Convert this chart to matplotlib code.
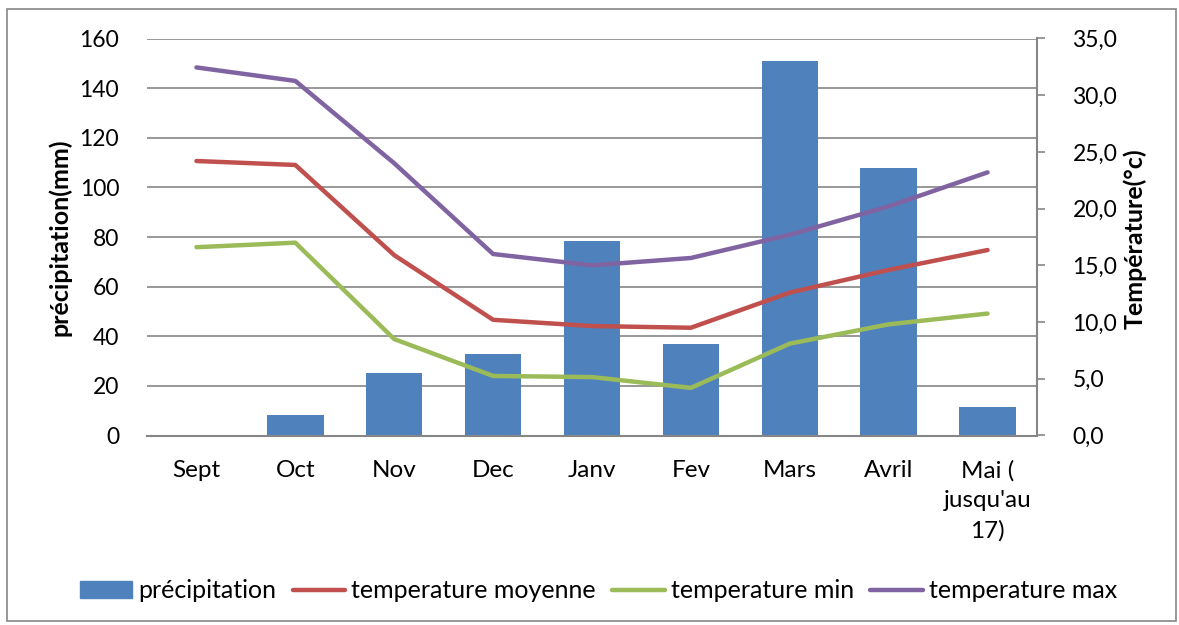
import matplotlib
matplotlib.use("Agg")
import matplotlib.pyplot as plt
from matplotlib.patches import Rectangle
from matplotlib.lines import Line2D
import numpy as np

months = ["Sept", "Oct", "Nov", "Dec", "Janv", "Fev", "Mars", "Avril", "Mai (\njusqu'au\n17)"]
precip = [0, 8.3, 25.2, 32.8, 78.4, 36.9, 151, 107.8, 11.3]
t_moy = [24.2, 23.85, 15.9, 10.2, 9.65, 9.5, 12.6, 14.6, 16.35]
t_min = [16.6, 17.0, 8.5, 5.25, 5.15, 4.2, 8.1, 9.8, 10.75]
t_max = [32.45, 31.26, 24.0, 16.0, 15.0, 15.65, 17.7, 20.2, 23.2]
left_ticks = [0, 20, 40, 60, 80, 100, 120, 140, 160]
right_ticks = [0, 5, 10, 15, 20, 25, 30, 35]

FONT = "Lato"
plt.rcParams["font.family"] = [FONT, "DejaVu Sans"]

W, H = 1179, 625
fig = plt.figure(figsize=(W / 100, H / 100), dpi=100)

L, R, T, B = 147, 1037, 38.5, 435.5
ax = fig.add_axes([L / W, 1 - B / H, (R - L) / W, (B - T) / H])
ax2 = ax.twinx()

x = np.arange(len(months))
blue = "#4F81BD"; red = "#C0504D"; green = "#9BBB59"; purple = "#8064A2"
grid = "#868686"

TICK = 16.5
XT = 17.5
LAB = 18

ax.bar(x, precip, width=0.57, color=blue, zorder=2)
ax.set_xlim(-0.5, len(months) - 0.5)
ax.set_ylim(0, 160)
ax.set_yticks(left_ticks)
for v in left_ticks:
    ax.axhline(v, color=grid, lw=1.2, zorder=1)
ax.tick_params(axis="y", length=0, labelsize=TICK, pad=20)
ax.tick_params(axis="x", length=0, labelsize=XT, pad=17.5)
ax.set_xticks(x)
ax.set_xticklabels(months, linespacing=1.5, va="top")
for s in ["top", "left", "right"]:
    ax.spines[s].set_visible(False)
ax.spines["bottom"].set_color(grid)
ax.spines["bottom"].set_linewidth(1.5)

lw = 3.2
kw = dict(lw=lw, solid_capstyle="round", solid_joinstyle="round", zorder=3)
ax2.plot(x, t_moy, color=red, **kw)
ax2.plot(x, t_min, color=green, **kw)
ax2.plot(x, t_max, color=purple, **kw)
ax2.set_ylim(0, 35)
ax2.set_yticks(right_ticks)
ax2.set_yticklabels([f"{v:.1f}".replace(".", ",") for v in right_ticks])
ax2.tick_params(axis="y", length=5.5, width=1.2, color=grid, labelsize=TICK, pad=20)
for s in ["top", "left", "bottom"]:
    ax2.spines[s].set_visible(False)
ax2.spines["right"].set_color(grid)
ax2.spines["right"].set_linewidth(1.5)

fig.text(60 / W, 1 - 237.5 / H, "précipitation(mm)", rotation=90, ha="center", va="center",
         fontsize=LAB, fontweight="bold")
fig.text(1135 / W, 1 - 238.5 / H, "Température(°c)", rotation=90, ha="center", va="center",
         fontsize=LAB, fontweight="bold")

# outer border
fig.patches.append(Rectangle((7 / W, 4 / H), (1176 - 7) / W, (616 - 4) / H,
                             transform=fig.transFigure, fill=False,
                             edgecolor="#868686", lw=1.2))

handles = [Rectangle((0, 0), 1, 1, color=blue),
           Line2D([0], [0], color=red, lw=lw, solid_capstyle="round"),
           Line2D([0], [0], color=green, lw=lw, solid_capstyle="round"),
           Line2D([0], [0], color=purple, lw=lw, solid_capstyle="round")]
labels = ["précipitation", "temperature moyenne", "temperature min", "temperature max"]
fig.legend(handles, labels, loc="center", bbox_to_anchor=(598.5 / W, 1 - 591 / H),
           ncol=4, frameon=False, fontsize=LAB, handlelength=2.1, handletextpad=0.25,
           columnspacing=0.65, handleheight=0.65, borderpad=0, borderaxespad=0)

fig.savefig("out.png", dpi=100)
